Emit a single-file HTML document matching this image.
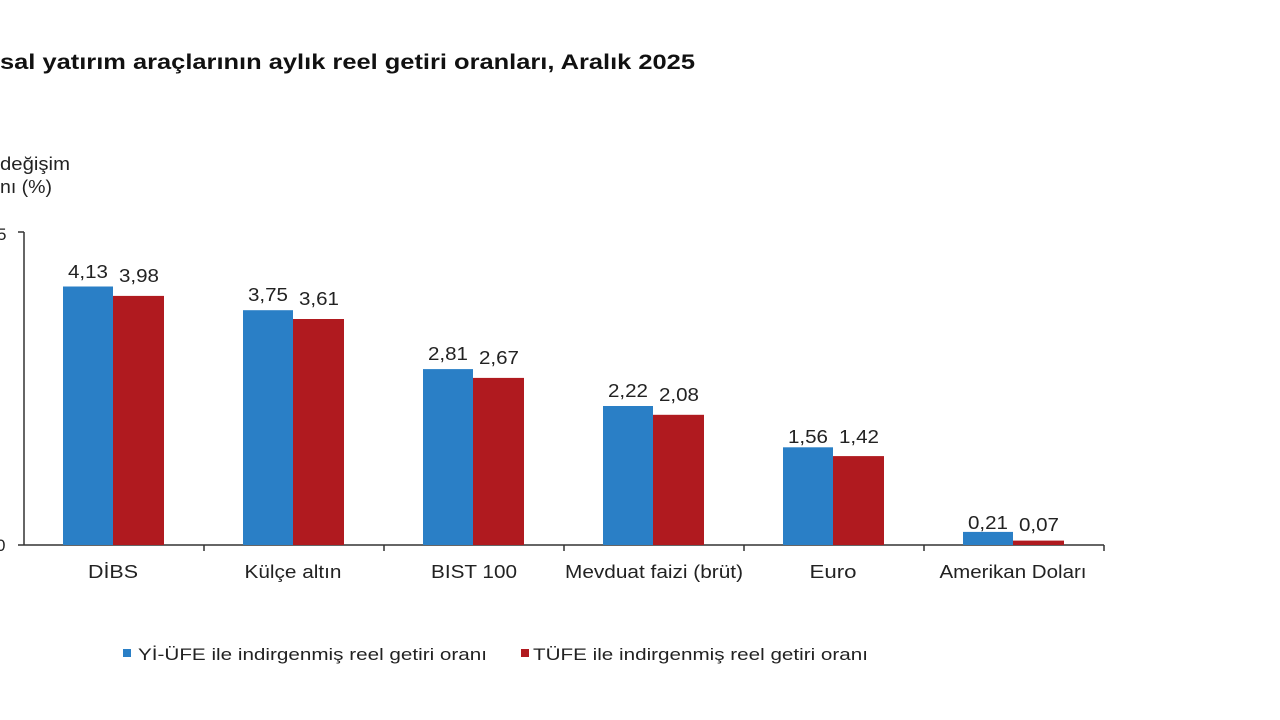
<!DOCTYPE html>
<html><head><meta charset="utf-8"><style>
html,body{margin:0;padding:0;background:#fff;width:1280px;height:720px;overflow:hidden}
svg{display:block;font-family:"Liberation Sans",Arial,sans-serif}
</style></head><body>
<svg width="1280" height="720" viewBox="0 0 1280 720">
<text x="0" y="69" font-size="21" font-weight="bold" fill="#111" textLength="695" lengthAdjust="spacingAndGlyphs">sal yatırım araçlarının aylık reel getiri oranları, Aralık 2025</text>
<text x="0" y="170" font-size="18" fill="#222" textLength="70" lengthAdjust="spacingAndGlyphs">değişim</text>
<text x="0" y="193" font-size="18" fill="#222" textLength="52" lengthAdjust="spacingAndGlyphs">nı (%)</text>
<text x="-3" y="240" font-size="17" fill="#222">5</text>
<text x="-4" y="551" font-size="17" fill="#222">0</text>
<g stroke="#333" stroke-width="1.5" fill="none">
<path d="M24 545V232M18 232H24M18 545H24M24 545H1104"/>
<path d="M204 545v6M384 545v6M564 545v6M744 545v6M924 545v6M1104 545v6"/>
</g>
<g fill="#2a7fc6">
<rect x="63" y="286.5" width="50" height="258.5"/>
<rect x="243" y="310.2" width="50" height="234.8"/>
<rect x="423" y="369.1" width="50" height="175.9"/>
<rect x="603" y="406" width="50" height="139"/>
<rect x="783" y="447.3" width="50" height="97.7"/>
<rect x="963" y="531.9" width="50" height="13.1"/>
</g>
<g fill="#b01a1f">
<rect x="113" y="295.9" width="51" height="249.1"/>
<rect x="293" y="319" width="51" height="226"/>
<rect x="473" y="377.9" width="51" height="167.1"/>
<rect x="653" y="414.8" width="51" height="130.2"/>
<rect x="833" y="456.1" width="51" height="88.9"/>
<rect x="1013" y="540.6" width="51" height="4.4"/>
</g>
<g font-size="18" fill="#222" text-anchor="middle">
<text x="88" y="278" textLength="40" lengthAdjust="spacingAndGlyphs">4,13</text><text x="139" y="282" textLength="40" lengthAdjust="spacingAndGlyphs">3,98</text>
<text x="268" y="301" textLength="40" lengthAdjust="spacingAndGlyphs">3,75</text><text x="319" y="305" textLength="40" lengthAdjust="spacingAndGlyphs">3,61</text>
<text x="448" y="360" textLength="40" lengthAdjust="spacingAndGlyphs">2,81</text><text x="499" y="364" textLength="40" lengthAdjust="spacingAndGlyphs">2,67</text>
<text x="628" y="397" textLength="40" lengthAdjust="spacingAndGlyphs">2,22</text><text x="679" y="401" textLength="40" lengthAdjust="spacingAndGlyphs">2,08</text>
<text x="808" y="443" textLength="40" lengthAdjust="spacingAndGlyphs">1,56</text><text x="859" y="443" textLength="40" lengthAdjust="spacingAndGlyphs">1,42</text>
<text x="988" y="529" textLength="40" lengthAdjust="spacingAndGlyphs">0,21</text><text x="1039" y="531" textLength="40" lengthAdjust="spacingAndGlyphs">0,07</text>
<text x="113" y="578" textLength="50" lengthAdjust="spacingAndGlyphs">DİBS</text>
<text x="293" y="578" textLength="97" lengthAdjust="spacingAndGlyphs">Külçe altın</text>
<text x="474" y="578" textLength="86" lengthAdjust="spacingAndGlyphs">BIST 100</text>
<text x="654" y="578" textLength="178" lengthAdjust="spacingAndGlyphs">Mevduat faizi (brüt)</text>
<text x="833" y="578" textLength="47" lengthAdjust="spacingAndGlyphs">Euro</text>
<text x="1013" y="578" textLength="147" lengthAdjust="spacingAndGlyphs">Amerikan Doları</text>
</g>
<rect x="123" y="649" width="8" height="8" fill="#2a7fc6"/>
<text x="138" y="660" font-size="17" fill="#222" textLength="349" lengthAdjust="spacingAndGlyphs">Yİ-ÜFE ile indirgenmiş reel getiri oranı</text>
<rect x="521" y="649" width="8" height="8" fill="#b01a1f"/>
<text x="533" y="660" font-size="17" fill="#222" textLength="335" lengthAdjust="spacingAndGlyphs">TÜFE ile indirgenmiş reel getiri oranı</text>
</svg>
</body></html>
